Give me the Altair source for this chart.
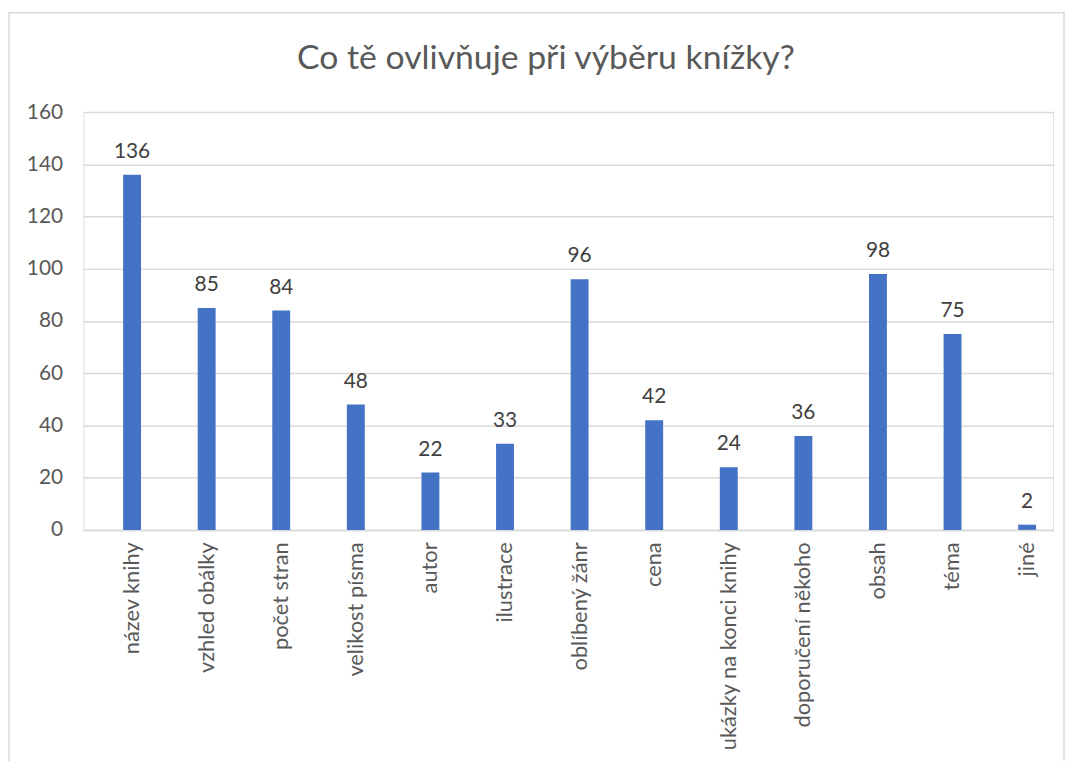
import altair as alt
import pandas as pd

categories = ["název knihy", "vzhled obálky", "počet stran", "velikost písma", "autor",
              "ilustrace", "oblíbený žánr", "cena", "ukázky na konci knihy",
              "doporučení někoho", "obsah", "téma", "jiné"]
values = [136, 85, 84, 48, 22, 33, 96, 42, 24, 36, 98, 75, 2]
title_text = "Co tě ovlivňuje při výběru knížky?"

df = pd.DataFrame({"cat": categories, "val": values})

FONT = "Lato"
W, H = 977, 421

x = alt.X("cat:N", sort=categories, title=None,
          scale=alt.Scale(paddingInner=0.76, paddingOuter=0.38, align=0.7),
          axis=alt.Axis(labelAngle=270, labelAlign="right", labelBaseline="middle",
                        labelFontSize=22, labelColor="#595959", labelFont=FONT,
                        labelPadding=12, ticks=False, domainColor="#D9D9D9",
                        domainWidth=1.5, labelLimit=300))
y = alt.Y("val:Q", title=None,
          scale=alt.Scale(domain=[0, 160], nice=False),
          axis=alt.Axis(values=list(range(0, 161, 20)), labelFontSize=21,
                        labelColor="#595959", labelFont=FONT, labelPadding=21,
                        ticks=False, domain=False, gridColor="#D9D9D9", gridWidth=1.5))

border = alt.Chart(pd.DataFrame({"a": [0]})).mark_rect(
    fill=None, stroke="#D9D9D9", strokeWidth=1.5
).encode(x=alt.value(-75), x2=alt.value(988), y=alt.value(-100), y2=alt.value(800))

title = alt.Chart(pd.DataFrame({"t": [title_text]})).mark_text(
    fontSize=34, color="#595959", font=FONT, baseline="alphabetic", align="center"
).encode(x=alt.value(466), y=alt.value(-43), text="t:N")

bars = alt.Chart(df).mark_bar(color="#4472C4").encode(x=x, y=y)
labels = alt.Chart(df).mark_text(
    baseline="bottom", dy=-13, fontSize=21, color="#404040", font=FONT
).encode(x=alt.X("cat:N", sort=categories), y="val:Q", text="val:Q")

chart = alt.layer(border, title, bars, labels).properties(
    width=W, height=H,
    autosize=alt.AutoSizeParams(type="none"),
    padding={"left": 76, "top": 102, "right": 13, "bottom": 230},
).configure_view(stroke=None).configure(background="white")

chart.save("out.html", embed_options={"renderer": "svg", "actions": False})
